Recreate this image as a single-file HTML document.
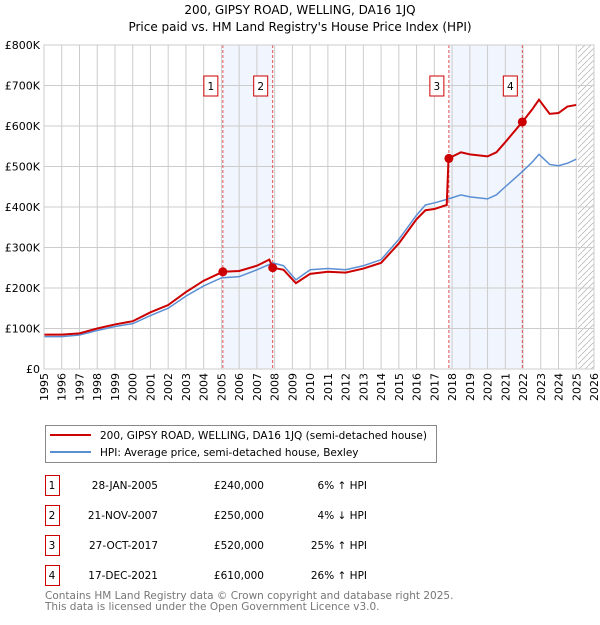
<!DOCTYPE html>
<html><head><meta charset="utf-8"><style>
body{margin:0;background:#fff;font-family:"Liberation Sans","DejaVu Sans",sans-serif;}
svg text{font-family:"DejaVu Sans","Liberation Sans",sans-serif;}
</style></head><body>
<svg id="chart" width="600" height="620" xmlns="http://www.w3.org/2000/svg">
<text x="300" y="14" text-anchor="middle" font-size="12">200, GIPSY ROAD, WELLING, DA16 1JQ</text>
<text x="300" y="31" text-anchor="middle" font-size="12">Price paid vs. HM Land Registry's House Price Index (HPI)</text>
<g id="plot"></g>
<g>
<rect x="45.5" y="425.5" width="391" height="37" fill="#fff" stroke="#888"/>
<line x1="50" y1="435" x2="91" y2="435" stroke="#cc0000" stroke-width="2"/>
<text x="100" y="439" font-size="10.5">200, GIPSY ROAD, WELLING, DA16 1JQ (semi-detached house)</text>
<line x1="50" y1="452" x2="91" y2="452" stroke="#5b8fd4" stroke-width="2"/>
<text x="100" y="456" font-size="10.5">HPI: Average price, semi-detached house, Bexley</text>
</g>
<g id="table" font-size="10.5"></g>
<text x="45" y="599" font-size="10.5" fill="#777">Contains HM Land Registry data © Crown copyright and database right 2025.</text>
<text x="45" y="610" font-size="10.5" fill="#777">This data is licensed under the Open Government Licence v3.0.</text>
</svg>
<script>
const hpiYears=[1995,1996,1997,1998,1999,2000,2001,2002,2003,2004,2005,2006,2007,2007.9,2008.5,2009.2,2010,2011,2012,2013,2014,2015,2016,2016.5,2017,2017.8,2018.5,2019,2020,2020.5,2021,2021.9,2022.5,2022.9,2023.5,2024,2024.5,2025];
const hpiValues=[80,80,84,95,105,112,132,150,180,205,225,228,245,262,255,220,245,248,245,255,270,320,380,405,410,420,430,425,420,430,450,485,510,530,505,502,508,518];
const priceYears=[1995,1996,1997,1998,1999,2000,2001,2002,2003,2004,2005.08,2006,2007,2007.7,2007.9,2008.5,2009.2,2010,2011,2012,2013,2014,2015,2016,2016.5,2017,2017.7,2017.8,2018.5,2019,2020,2020.5,2021,2021.96,2022.5,2022.9,2023.5,2024,2024.5,2025];
const priceValues=[85,85,88,100,110,118,140,158,190,218,240,242,255,270,250,245,212,235,240,238,248,262,310,370,392,395,405,520,535,530,525,535,560,610,640,665,630,632,648,652];
const saleLabels=["1","2","3","4"];
const saleYears=[2005.08,2007.89,2017.82,2021.96];
const saleValues=[240,250,520,610];
const saleDates=["28-JAN-2005","21-NOV-2007","27-OCT-2017","17-DEC-2021"];
const salePrices=["£240,000","£250,000","£520,000","£610,000"];
const saleDiffs=["6% ↑ HPI","4% ↓ HPI","25% ↑ HPI","26% ↑ HPI"];
const yTicks=[0,100,200,300,400,500,600,700,800];
const yTickLabels=["£0","£100K","£200K","£300K","£400K","£500K","£600K","£700K","£800K"];

const NS="http://www.w3.org/2000/svg";
const X0=44,X1=594,Y0=369,Y1=45;
const x=y=>X0+(y-1995)*(X1-X0)/31;
const yv=v=>Y0-v*(Y0-Y1)/800;
const plot=document.getElementById('plot');
function mk(tag,attrs,parent){const e=document.createElementNS(NS,tag);for(const k in attrs)e.setAttribute(k,attrs[k]);(parent||plot).appendChild(e);return e;}
for(const [a,b] of [[0,1],[2,3]]){
  const r=mk('rect',{x:x(saleYears[a]),y:Y1,width:x(saleYears[b])-x(saleYears[a]),height:Y0-Y1,fill:'#eef3fc',opacity:0.8});
  
  
}
const defs=mk('defs',{});
const pat=mk('pattern',{id:'hatch',width:6,height:6,patternUnits:'userSpaceOnUse'},defs);
mk('path',{d:'M0,6 L6,0',stroke:'#bbb','stroke-width':0.8},pat);
const h=mk('rect',{x:x(2025.1),y:Y1,width:X1-x(2025.1),height:Y0-Y1,fill:'url(#hatch)'});


for(let yr=1995;yr<=2026;yr++){
  mk('line',{x1:x(yr),y1:Y1,x2:x(yr),y2:Y0,stroke:'#ccc','stroke-width':1});
  const t=mk('text',{x:0,y:0,'text-anchor':'end','font-size':11,transform:`translate(${x(yr)+4},373) rotate(-90)`});
  t.textContent=yr;
  
  
}
yTicks.forEach((v,i)=>{
  mk('line',{x1:X0,y1:yv(v),x2:X1,y2:yv(v),stroke:'#ccc','stroke-width':1});
  const t=mk('text',{x:40,y:yv(v)+4,'text-anchor':'end','font-size':11});
  t.textContent=yTickLabels[i];
  
  
});
saleYears.forEach((s,i)=>{
  mk('line',{x1:x(s),y1:Y1,x2:x(s),y2:Y0,stroke:'#e05050','stroke-width':1,'stroke-dasharray':'3,2'});
  const bx=mk('rect',{x:x(s)-19,y:76,width:14,height:20,fill:'#fff',stroke:'#cc0000'});
  
  
  const t=mk('text',{x:x(s)-12,y:90,'text-anchor':'middle','font-size':10.5});
  t.textContent=saleLabels[i];
});
const hp=mk('polyline',{points:hpiYears.map((a,i)=>x(a)+','+yv(hpiValues[i])).join(' '),fill:'none',stroke:'#5b8fd4','stroke-width':1.5});


const pp=mk('polyline',{points:priceYears.map((a,i)=>x(a)+','+yv(priceValues[i])).join(' '),fill:'none',stroke:'#cc0000','stroke-width':2});


saleYears.forEach((s,i)=>{
  const c=mk('circle',{cx:x(s),cy:yv(saleValues[i]),r:4.5,fill:'#cc0000'});
  
  
});
mk('rect',{x:X0,y:Y1,width:X1-X0,height:Y0-Y1,fill:'none',stroke:'#ccc'});
const tb=document.getElementById('table');
saleLabels.forEach((l,i)=>{
  const cy=476+i*30;
  const b=mk('rect',{x:45.5,y:cy-0.5,width:14,height:20,fill:'#fff',stroke:'#cc0000'},tb);
  
  
  const cols=[[52,l,'middle'],[158,saleDates[i],'end'],[264,salePrices[i],'end'],[367,saleDiffs[i],'end']];
  cols.forEach(([cx,txt,an])=>{
    const t=mk('text',{x:cx,y:cy+13,'text-anchor':an},tb);
    t.textContent=txt;
    
    
  });
});
</script>
</body></html>
